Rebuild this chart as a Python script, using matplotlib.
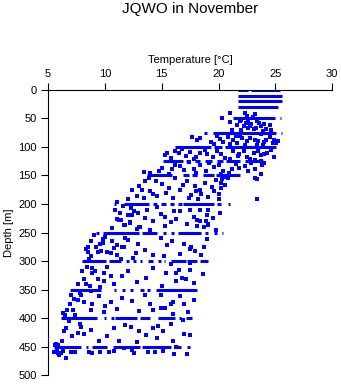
import matplotlib
matplotlib.use("Agg")
import matplotlib.pyplot as plt

plt.rcParams['font.family'] = ['Liberation Sans', 'DejaVu Sans']

# standard depths where the casts are dense (temperature ranges covered)
line_depths = [0, 10, 20, 30, 50, 75, 100, 125, 150, 200, 250, 300, 350, 400, 450]
line_ranges = [
    [(21.7, 22.6), (22.9, 25.4)],
    [(21.7, 25.6)],
    [(21.7, 25.6)],
    [(21.7, 25.2)],
    [(21.3, 25.0), (25.4, 25.5)],
    [(18.7, 19.0), (19.5, 25.1), (25.5, 25.6)],
    [(16.2, 19.3), (19.6, 20.3), (20.6, 25.1)],
    [(15.1, 16.9), (17.1, 17.5), (17.9, 18.4), (18.8, 19.4), (19.9, 20.4), (20.7, 21.9), (22.3, 23.9)],
    [(13.7, 15.9), (16.9, 17.4), (17.7, 18.1), (18.6, 19.6), (19.8, 21.9)],
    [(10.8, 11.0), (11.7, 13.9), (14.2, 14.6), (14.9, 15.4), (15.7, 16.1), (16.4, 16.8), (16.9, 19.6), (19.9, 20.2), (20.8, 21.0)],
    [(9.2, 9.5), (9.8, 13.0), (13.3, 14.6), (15.1, 15.4), (15.8, 16.1), (16.4, 18.5), (18.8, 19.1), (19.6, 19.9), (20.3, 20.4)],
    [(8.0, 10.1), (10.4, 11.4), (11.9, 12.1), (12.5, 12.7), (13.1, 13.3), (13.8, 14.2), (14.7, 14.9), (15.2, 15.3), (15.8, 17.1), (17.2, 18.1), (18.4, 19.1)],
    [(6.9, 9.7), (10.8, 11.0), (11.5, 11.8), (12.2, 12.5), (13.1, 13.4), (13.7, 14.0), (14.5, 18.1)],
    [(6.1, 9.3), (9.9, 10.1), (10.5, 10.8), (10.9, 12.8), (13.1, 14.0), (14.7, 16.2), (16.5, 16.7), (17.1, 17.7)],
    [(5.5, 7.9), (8.3, 8.5), (8.9, 10.2), (10.7, 13.1), (13.3, 15.8), (16.1, 16.7), (17.2, 17.5)],
]

# scattered observations between standard depths
temp = [
    21.0, 20.3, 22.3, 23.2, 22.5, 23.0,
    21.0, 21.9, 22.6, 22.9, 23.4, 23.7, 23.1, 24.2, 22.6, 22.2,
    22.0, 22.4, 23.6, 24.0, 22.8, 23.3, 24.5, 21.6, 22.0, 23.9, 24.6, 21.2,
    17.7, 18.1, 19.3, 20.1, 21.3, 21.6, 22.5, 23.2, 24.2, 24.8, 25.1, 23.7, 21.9, 23.4,
    19.9, 20.8, 21.5, 22.1, 22.8, 23.5, 24.0, 24.5, 21.0, 22.3, 23.9, 24.9, 25.2, 20.4, 19.6, 18.4,
    16.2, 16.8, 15.3, 15.8, 17.1, 18.4, 19.0, 19.9, 21.3, 22.2, 23.1, 23.7, 24.3, 20.6, 22.5, 24.0, 21.7,
    16.5, 17.5, 18.8, 19.5, 20.2, 21.0, 21.8, 22.8, 23.5, 24.6, 24.9, 23.2, 18.0, 15.5, 17.8,
    15.0, 15.9, 17.8, 18.4, 19.6, 20.4, 21.2, 21.8, 23.8, 23.7, 22.9, 16.2, 17.4, 14.0, 13.4, 20.2, 23.7,
    16.6, 17.0, 18.9, 19.2, 20.0, 20.9, 21.5, 22.3, 22.6, 23.2, 24.0, 14.8, 15.6, 18.0, 20.5,
    13.5, 13.0, 13.3, 14.0, 14.2, 15.6, 16.9, 17.9, 18.4, 18.5, 19.1, 19.6, 20.2, 20.2, 20.3, 20.8,
    23.4, 23.2, 12.8, 13.4, 12.0, 16.0, 17.4, 18.2, 20.0, 23.4,
    13.9, 14.5, 15.0, 15.4, 16.2, 16.6, 17.2, 18.0, 18.8, 19.4, 20.0, 20.6, 14.6, 12.4, 17.6, 19.8,
    11.1, 12.3, 12.6, 12.4, 12.9, 13.5, 14.9, 15.3, 16.1, 17.5, 18.4, 19.0, 19.1, 18.9,
    11.1, 11.4, 12.2, 13.0, 11.8, 15.3, 16.3, 18.1, 19.1, 10.6,
    11.2, 11.7, 12.2, 13.1, 18.1, 18.4, 19.1,
    11.6, 12.0, 13.7, 14.2, 14.6, 15.8, 16.6, 17.2, 17.8, 18.7, 19.5, 19.8, 20.1, 12.8, 14.0, 10.9, 11.3,
    8.8, 8.5, 9.2, 9.8, 9.8, 9.4, 9.7, 10.2, 8.5, 8.3, 8.8, 10.5, 10.8, 11.1, 11.1, 11.5, 11.7,
    11.8, 12.7, 12.5, 14.9, 15.2, 15.5, 17.5, 17.9,
    9.0, 9.6, 10.0, 10.6, 12.0, 12.9, 13.5, 14.2, 15.9, 16.6, 17.0, 18.5, 18.7, 19.0, 8.6, 11.4,
    8.0, 8.2, 8.3, 8.9, 8.9, 9.4, 9.9, 9.9, 8.7, 8.8, 7.9, 10.5, 11.5, 15.4, 16.3, 16.5, 16.8,
    17.1, 16.3, 17.5, 17.5, 17.6,
    8.4, 9.1, 9.6, 10.2, 10.8, 12.0, 12.8, 13.6, 14.2, 15.0, 15.8, 17.8, 18.6, 7.6,
    7.0, 6.9, 7.3, 7.6, 6.7, 7.2, 6.3, 8.9, 8.8, 10.5, 11.1, 11.5, 14.9, 14.9, 15.3, 14.2,
    15.8, 16.0, 17.0, 17.8, 16.0,
    7.8, 8.2, 9.5, 9.9, 10.0, 12.4, 13.0, 13.5, 14.0, 16.6, 17.3, 7.4, 6.5,
    6.6, 6.4, 7.6, 8.2, 7.8, 7.9, 10.8, 11.8, 12.3, 13.0, 14.7, 15.1, 15.8, 17.0, 17.5, 14.6, 16.3,
    6.8, 7.1, 8.8, 9.5, 10.2, 11.2, 12.8, 13.6, 14.2, 16.0, 16.9, 6.2, 5.9,
    5.7, 5.5, 5.8, 6.1, 6.6, 7.0, 7.4, 8.6, 8.9, 9.6, 10.4, 10.8, 11.7, 12.4, 12.6, 13.8,
    14.4, 15.1, 16.1, 17.2, 5.6, 5.9, 6.3, 6.0, 5.8,
]
depth = [
    40, 50, 40, 42, 46, 47,
    57, 55, 57, 60, 55, 63, 69, 69, 66, 63,
    53, 58, 58, 60, 64, 66, 62, 62, 70, 72, 71, 70,
    82, 88, 91, 86, 87, 93, 90, 87, 87, 93, 94, 78, 81, 96,
    80, 83, 80, 85, 84, 90, 92, 83, 95, 96, 97, 88, 90, 91, 95, 85,
    107, 104, 115, 119, 116, 111, 113, 107, 107, 107, 110, 115, 110, 119, 117, 113, 116,
    110, 109, 106, 118, 112, 121, 112, 121, 108, 106, 118, 123, 118, 110, 121,
    137, 139, 138, 132, 135, 142, 139, 137, 132, 125, 128, 131, 126, 145, 144, 148, 148,
    134, 140, 143, 129, 131, 146, 130, 133, 142, 138, 128, 143, 147, 146, 152,
    159, 168, 175, 178, 182, 172, 166, 169, 175, 183, 188, 178, 172, 163, 157, 154,
    157, 154, 186, 189, 191, 190, 190, 191, 192, 191,
    155, 160, 165, 180, 155, 176, 160, 178, 163, 170, 183, 166, 186, 176, 185, 158,
    197, 207, 213, 219, 216, 224, 217, 222, 213, 210, 210, 220, 210, 230,
    226, 228, 234, 240, 236, 239, 226, 228, 236, 242,
    228, 237, 232, 241, 238, 229, 235,
    204, 220, 210, 230, 205, 232, 212, 235, 222, 240, 225, 245, 215, 244, 246, 210, 215,
    265, 276, 276, 262, 268, 285, 282, 285, 285, 279, 292, 286, 278, 272, 289, 275, 275,
    259, 286, 295, 259, 291, 272, 279, 283,
    255, 270, 258, 265, 263, 270, 280, 290, 265, 287, 270, 290, 276, 262, 296, 296,
    318, 332, 341, 312, 321, 332, 321, 335, 344, 353, 359, 327, 327, 321, 321, 315, 329,
    332, 335, 303, 315, 276,
    310, 318, 345, 310, 340, 318, 336, 330, 312, 343, 305, 338, 322, 340,
    359, 376, 366, 368, 385, 385, 391, 376, 385, 372, 384, 365, 359, 382, 382, 385,
    376, 372, 376, 368, 392,
    356, 372, 362, 390, 378, 370, 388, 360, 375, 362, 390, 395, 394,
    418, 422, 426, 428, 410, 415, 418, 412, 416, 422, 414, 423, 410, 428, 429, 435, 450,
    405, 432, 420, 440, 432, 440, 442, 430, 418, 440, 404, 440, 447,
    445, 460, 459, 461, 470, 460, 460, 460, 462, 460, 460, 458, 453, 456, 462, 460,
    460, 458, 463, 463, 448, 462, 458, 464, 456,
]

fig = plt.figure(figsize=(3.41, 3.84), dpi=100)
ax = fig.add_axes([0.141, 0.023, 0.833, 0.743])

for d, ranges in zip(line_depths, line_ranges):
    for t0, t1 in ranges:
        ax.plot([t0, t1], [d, d], color='blue', lw=2.2, solid_capstyle='butt')

ax.plot(temp, depth, 's', color='blue', ms=2.7, mew=0)

ax.set_xlim(5, 30)
ax.set_ylim(500, 0)
ax.set_xticks([5, 10, 15, 20, 25, 30])
ax.set_yticks([0, 50, 100, 150, 200, 250, 300, 350, 400, 450, 500])
ax.xaxis.tick_top()
ax.xaxis.set_label_position('top')
ax.spines['right'].set_visible(False)
ax.spines['bottom'].set_visible(False)
ax.tick_params(direction='out', length=5, width=0.8, labelsize=8, pad=3)
ax.set_xlabel("Temperature [°C]", fontsize=8, labelpad=4)
ax.set_ylabel("Depth [m]", fontsize=8, labelpad=3)
fig.suptitle("JQWO in November", x=0.557, y=0.995, fontsize=11)

fig.savefig("out.png", dpi=100)
